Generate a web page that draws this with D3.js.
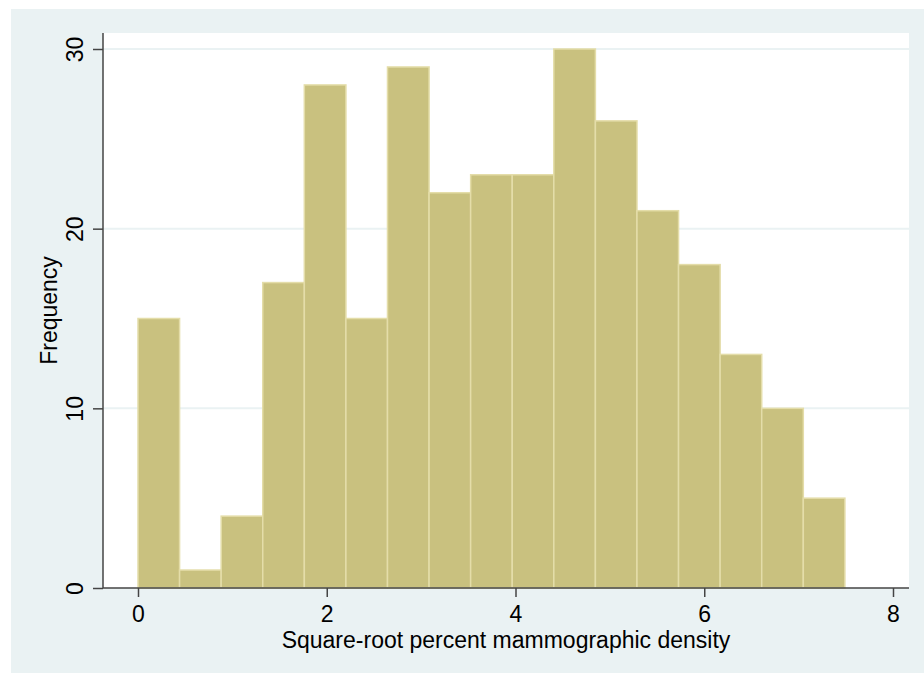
<!DOCTYPE html>
<html>
<head>
<meta charset="utf-8">
<script src="https://cdn.jsdelivr.net/npm/d3@7"></script>
<style>
  html, body { margin: 0; padding: 0; background: #ffffff; }
  svg { display: block; }
  text { font-family: "Liberation Sans", Arial, sans-serif; fill: #000; }
</style>
</head>
<body>
<svg id="chart" width="924" height="673"></svg>
<script>
// Histogram bins of the square-root percent mammographic density
const binStart = 0;
const binWidth = 0.4406;
const frequencies = [15, 1, 4, 17, 28, 15, 29, 22, 23, 23, 30, 26, 21, 18, 13, 10, 5];
const xTicks = [0, 2, 4, 6, 8];
const yTicks = [0, 10, 20, 30];
const xTitle = "Square-root percent mammographic density";
const yTitle = "Frequency";

const svg = d3.select("#chart");
const W = 924, H = 673;
const fontSize = 23;

// outer graph region
svg.append("rect").attr("x", 11).attr("y", 9)
  .attr("width", W - 11).attr("height", H - 9).attr("fill", "#eaf2f3");

const plot = { left: 103, right: 909, top: 33, bottom: 588 };
svg.append("rect").attr("x", plot.left).attr("y", plot.top)
  .attr("width", plot.right - plot.left).attr("height", plot.bottom - plot.top)
  .attr("fill", "#ffffff");

const x = d3.scaleLinear().domain([0, 8]).range([138, 893]);
const y = d3.scaleLinear().domain([0, 30]).range([plot.bottom, 49]);

// grid lines
svg.append("g").selectAll("line").data(yTicks.filter(d => d > 0)).join("line")
  .attr("x1", plot.left).attr("x2", plot.right)
  .attr("y1", d => y(d)).attr("y2", d => y(d))
  .attr("stroke", "#eaf2f3").attr("stroke-width", 2);

// bars
const bins = frequencies.map((v, i) => ({ x0: binStart + i * binWidth, x1: binStart + (i + 1) * binWidth, v }));
svg.append("g").selectAll("rect").data(bins).join("rect")
  .attr("x", d => x(d.x0))
  .attr("width", d => x(d.x1) - x(d.x0))
  .attr("y", d => y(d.v))
  .attr("height", d => y(0) - y(d.v))
  .attr("fill", "#c9c17f")
  .attr("stroke", "#e4dda9")
  .attr("stroke-width", 1.5);

// y axis
const yAxis = svg.append("g").attr("transform", `translate(${plot.left},0)`)
  .call(d3.axisLeft(y).tickValues(yTicks).tickSize(10).tickSizeOuter(0));
yAxis.select(".domain").attr("stroke", "#444").attr("stroke-width", 1.5)
  .attr("d", `M0,${plot.top}V${plot.bottom}`);
yAxis.selectAll(".tick line").attr("stroke", "#444").attr("stroke-width", 1.5);
// tick labels are rotated and centered on their ticks
yAxis.selectAll(".tick text")
  .attr("font-size", fontSize).attr("font-family", "Liberation Sans, Arial, sans-serif")
  .attr("fill", "#000")
  .attr("transform", "rotate(-90)")
  .attr("x", 0).attr("y", -20)
  .attr("dy", 0)
  .attr("text-anchor", "middle");

// x axis
const xAxis = svg.append("g").attr("transform", `translate(0,${plot.bottom})`)
  .call(d3.axisBottom(x).tickValues(xTicks).tickSize(9).tickPadding(9).tickSizeOuter(0));
xAxis.select(".domain").attr("stroke", "#444").attr("stroke-width", 1.5)
  .attr("d", `M${plot.left},0H${plot.right}`);
xAxis.selectAll(".tick line").attr("stroke", "#444").attr("stroke-width", 1.5);
xAxis.selectAll(".tick text")
  .attr("font-size", fontSize).attr("font-family", "Liberation Sans, Arial, sans-serif")
  .attr("fill", "#000");

// axis titles
svg.append("text").attr("x", (plot.left + plot.right) / 2).attr("y", 648)
  .attr("text-anchor", "middle").attr("font-size", fontSize).text(xTitle);
svg.append("text")
  .attr("transform", `translate(57,${(plot.top + plot.bottom) / 2}) rotate(-90)`)
  .attr("text-anchor", "middle").attr("font-size", fontSize).text(yTitle);
</script>
</body>
</html>
